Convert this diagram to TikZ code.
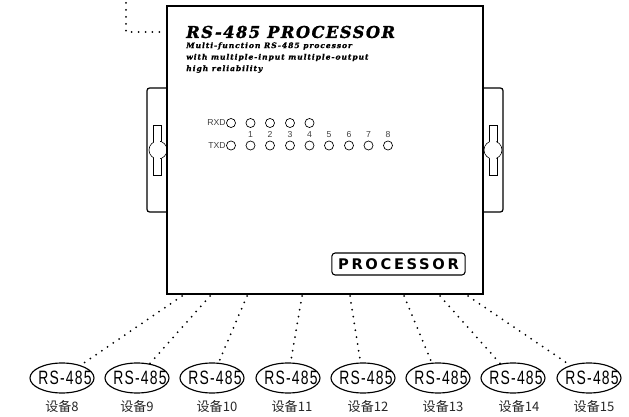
\documentclass[tikz,border=0pt]{standalone}
\usepackage{fontspec}
\setmainfont{Liberation Sans}
\newfontfamily\cjkfont{Noto Sans CJK SC}
\newfontfamily\slabfont[LetterSpace=9,FakeBold=1.5]{DejaVu Serif}
\newfontfamily\smallslabfont[LetterSpace=12,FakeBold=1]{DejaVu Serif}
\newfontfamily\widefont[LetterSpace=18]{DejaVu Sans}
\newfontfamily\portfont[LetterSpace=9]{Liberation Sans}
\usetikzlibrary{shapes.geometric}

\newcommand{\rstext}{\makebox[0pt]{\hspace*{4.5pt}\scalebox{0.72}[1]{\portfont\fontsize{14.5}{15}\selectfont RS-485}}}

\tikzset{
	casing/.style={draw, line width=1.1pt, fill=white, minimum width=237pt, minimum height=216pt, inner sep=0pt},
	earline/.style={line width=0.9pt, rounded corners=2pt},
	slotline/.style={line width=0.45pt},
	led/.style={circle, draw, line width=0.5pt, minimum size=6.8pt, inner sep=0pt},
	ledtext/.style={font=\fontsize{6.5}{7}\selectfont, text=black!75, inner sep=0pt},
	device/.style={ellipse, draw, line width=0.85pt, minimum width=48pt, minimum height=22.5pt, inner sep=0pt},
	devtext/.style={font=\cjkfont\fontsize{9.8}{10}\selectfont, text=black!85, inner sep=0pt},
	dotline/.style={line width=1.5pt, line cap=round, dash pattern=on 0pt off 5.2pt},
	headline/.style={anchor=west, inner sep=0pt, font=\smallslabfont\bfseries\itshape\fontsize{5.7}{6}\selectfont}
}

\begin{document}
\begin{tikzpicture}[x=0.75pt, y=-0.75pt]
	\useasboundingbox (0,0) rectangle (629,417);

	% ears
	\draw[earline] (167,88) -- (147,88) -- (147,212) -- (167,212);
	\draw[earline] (483,88) -- (503,88) -- (503,212) -- (483,212);
	\draw[slotline] (153,125) rectangle (161,175);
	\draw[slotline] (489,125) rectangle (497,175);
	\draw[slotline, fill=white] (158,150) circle (9);
	\draw[slotline, fill=white] (493,150) circle (9);
	\fill[white] (153.6,135) rectangle (160.4,165);
	\fill[white] (489.6,135) rectangle (496.4,165);

	\node[casing] (box) at (325,150) {};

	% front panel text
	\node[anchor=west, inner sep=0pt, font=\slabfont\bfseries\itshape\fontsize{12.2}{13}\selectfont] (title) at (186,32) {RS-485 PROCESSOR};
	\node[headline] (line1) at (186,46) {Multi-function RS-485 processor};
	\node[headline] (line2) at (186,57.5) {with multiple-input multiple-output};
	\node[headline] (line3) at (186,69) {high reliability};

	\node[led] (rxd) at (231,123) {};
	\node[led] (rx1) at (250.5,123) {};
	\node[led] (rx2) at (270,123) {};
	\node[led] (rx3) at (290,123) {};
	\node[led] (rx4) at (309.5,123) {};
	\node[led] (txd) at (231,145.5) {};
	\node[led] (tx1) at (250.5,145.5) {};
	\node[led] (tx2) at (270,145.5) {};
	\node[led] (tx3) at (290,145.5) {};
	\node[led] (tx4) at (309.5,145.5) {};
	\node[led] (tx5) at (329,145.5) {};
	\node[led] (tx6) at (349,145.5) {};
	\node[led] (tx7) at (368.5,145.5) {};
	\node[led] (tx8) at (388,145.5) {};

	\node[ledtext, anchor=east] (rxdtext) at (226,123) {RXD};
	\node[ledtext, anchor=east] (txdtext) at (226,145.5) {TXD};
	\node[ledtext] (num1) at (250.5,134.5) {1};
	\node[ledtext] (num2) at (270,134.5) {2};
	\node[ledtext] (num3) at (290,134.5) {3};
	\node[ledtext] (num4) at (309.5,134.5) {4};
	\node[ledtext] (num5) at (329,134.5) {5};
	\node[ledtext] (num6) at (349,134.5) {6};
	\node[ledtext] (num7) at (368.5,134.5) {7};
	\node[ledtext] (num8) at (388,134.5) {8};

	\node[draw, line width=0.8pt, rounded corners=2.5pt, minimum width=100pt, minimum height=16.5pt, inner sep=0pt, font=\widefont\bfseries\fontsize{11}{11}\selectfont] (badge) at (398.5,264) {PROCESSOR};

	% devices
	\node[device] (dev8) at (62,378) {\rstext};
	\node[device] (dev9) at (137,378) {\rstext};
	\node[device] (dev10) at (212,378) {\rstext};
	\node[device] (dev11) at (288,378) {\rstext};
	\node[device] (dev12) at (363,378) {\rstext};
	\node[device] (dev13) at (438,378) {\rstext};
	\node[device] (dev14) at (513,378) {\rstext};
	\node[device] (dev15) at (589,378) {\rstext};

	\node[devtext] (name8) at (62,407) {设备8};
	\node[devtext] (name9) at (137,407) {设备9};
	\node[devtext] (name10) at (217,407) {设备10};
	\node[devtext] (name11) at (292,407) {设备11};
	\node[devtext] (name12) at (368,407) {设备12};
	\node[devtext] (name13) at (443,407) {设备13};
	\node[devtext] (name14) at (519,407) {设备14};
	\node[devtext] (name15) at (594,407) {设备15};

	% bus lines
	\coordinate (out8) at (182,296);
	\coordinate (out9) at (210,296);
	\coordinate (out10) at (247,296);
	\coordinate (out11) at (302,296);
	\coordinate (out12) at (350,296);
	\coordinate (out13) at (404,296);
	\coordinate (out14) at (440,296);
	\coordinate (out15) at (468,296);
	\coordinate (upper) at (126,3);

	\draw[dotline] (out8) -- (dev8);
	\draw[dotline] (out9) -- (dev9);
	\draw[dotline] (out10) -- (dev10);
	\draw[dotline] (out11) -- (dev11);
	\draw[dotline] (out12) -- (dev12);
	\draw[dotline] (out13) -- (dev13);
	\draw[dotline] (out14) -- (dev14);
	\draw[dotline] (out15) -- (dev15);
	\draw[dotline] (upper) |- (box.west |- 0,32);
\end{tikzpicture}
\end{document}
